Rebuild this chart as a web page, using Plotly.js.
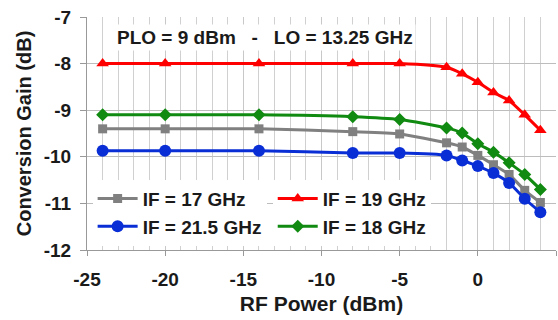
<!DOCTYPE html>
<html>
<head>
<meta charset="utf-8">
<script src="https://cdn.plot.ly/plotly-3.0.1.min.js"></script>
<style>html,body{margin:0;padding:0;background:#fff;}#chart{width:558px;height:320px;}</style>
</head>
<body>
<div id="chart"></div>
<script>
const rfPower = [-24, -20, -14, -8, -5, -2, -1, 0, 1, 2, 3, 4];
const if17 = [-9.4, -9.4, -9.4, -9.46, -9.51, -9.7, -9.79, -9.97, -10.17, -10.38, -10.72, -10.98];
const if19 = [-8.0, -8.0, -8.0, -8.0, -8.0, -8.08, -8.22, -8.4, -8.62, -8.79, -9.1, -9.43];
const if215 = [-9.87, -9.87, -9.87, -9.92, -9.92, -9.97, -10.08, -10.2, -10.35, -10.56, -10.9, -11.19];
const if18 = [-9.1, -9.1, -9.1, -9.14, -9.2, -9.38, -9.49, -9.72, -9.9, -10.13, -10.38, -10.7];
const seriesNames = ['IF = 17 GHz', 'IF = 19 GHz', 'IF = 21.5 GHz', 'IF = 18 GHz'];
const xTicks = [-25, -20, -15, -10, -5, 0, 5];
const yTicks = [-12, -11, -10, -9, -8, -7];
const noteText = 'PLO = 9 dBm   -   LO = 13.25 GHz';

const F = 'Liberation Sans, Arial, sans-serif';
const boldFont = (s) => ({family: F, size: s, color: '#1a1a1a', weight: 'bold'});

const traces = [
  {x: rfPower, y: if17, name: seriesNames[0], legend: 'legend', legendgroup: 'a', legendrank: 1, type: 'scatter', mode: 'lines+markers',
   line: {color: '#808080', width: 3, shape: 'spline', smoothing: 0.6}, marker: {symbol: 'square', size: 9, color: '#808080'}},
  {x: rfPower, y: if19, name: seriesNames[1], legend: 'legend2', legendgroup: 'b', legendrank: 1, type: 'scatter', mode: 'lines+markers',
   line: {color: '#ff0000', width: 3, shape: 'spline', smoothing: 0.6}, marker: {symbol: 'triangle-up', size: 11, color: '#ff0000'}},
  {x: rfPower, y: if215, name: seriesNames[2], legend: 'legend', legendgroup: 'c', legendrank: 2, type: 'scatter', mode: 'lines+markers',
   line: {color: '#0a2ed6', width: 3, shape: 'spline', smoothing: 0.6}, marker: {symbol: 'circle', size: 12, color: '#0a2ed6'}},
  {x: rfPower, y: if18, name: seriesNames[3], legend: 'legend2', legendgroup: 'd', legendrank: 2, type: 'scatter', mode: 'lines+markers',
   line: {color: '#108a10', width: 3, shape: 'spline', smoothing: 0.6}, marker: {symbol: 'diamond', size: 10, color: '#108a10'}}
];

const legendCommon = {
  orientation: 'v', bgcolor: '#ffffff', borderwidth: 0, font: boldFont(19),
  xanchor: 'left', yanchor: 'middle', itemwidth: 40, tracegroupgap: 15,
  traceorder: 'normal'
};

const layout = {
  width: 558, height: 320,
  margin: {l: 87, r: 2, t: 17, b: 70},
  paper_bgcolor: '#ffffff', plot_bgcolor: '#ffffff',
  showlegend: true,
  legend: Object.assign({}, legendCommon, {x: 0.012, y: 0.16}),
  legend2: Object.assign({}, legendCommon, {x: 0.396, y: 0.16}),
  xaxis: {
    range: [-25, 5], tickvals: xTicks, ticktext: xTicks.map(String),
    showgrid: true, gridcolor: '#c8c8c8', gridwidth: 1,
    minor: {dtick: 1, showgrid: true, gridcolor: '#d0d0d0', gridwidth: 1},
    showline: true, linecolor: '#999999', linewidth: 1,
    ticks: 'outside', ticklen: 5, tickcolor: '#999999',
    tickfont: boldFont(19), zeroline: false, ticklabelstandoff: 7,
    title: {text: 'RF Power (dBm)', font: boldFont(21), standoff: 7}
  },
  yaxis: {
    range: [-12, -7], tickvals: yTicks, ticktext: yTicks.map(String),
    showgrid: true, gridcolor: '#bdbdbd', gridwidth: 1,
    showline: true, linecolor: '#999999', linewidth: 1,
    ticks: 'outside', ticklen: 6, tickcolor: '#999999',
    tickfont: boldFont(19), zeroline: false, ticklabelstandoff: 5,
    title: {text: 'Conversion Gain (dB)', font: boldFont(20), standoff: 6}
  },
  annotations: [{
    xref: 'paper', yref: 'paper', x: 0.379, y: 0.91, xanchor: 'center', yanchor: 'middle',
    text: noteText, showarrow: false, font: boldFont(19), bgcolor: '#ffffff', borderpad: 2
  }]
};

Plotly.newPlot('chart', traces, layout, {staticPlot: true, displayModeBar: false});
</script>
</body>
</html>
